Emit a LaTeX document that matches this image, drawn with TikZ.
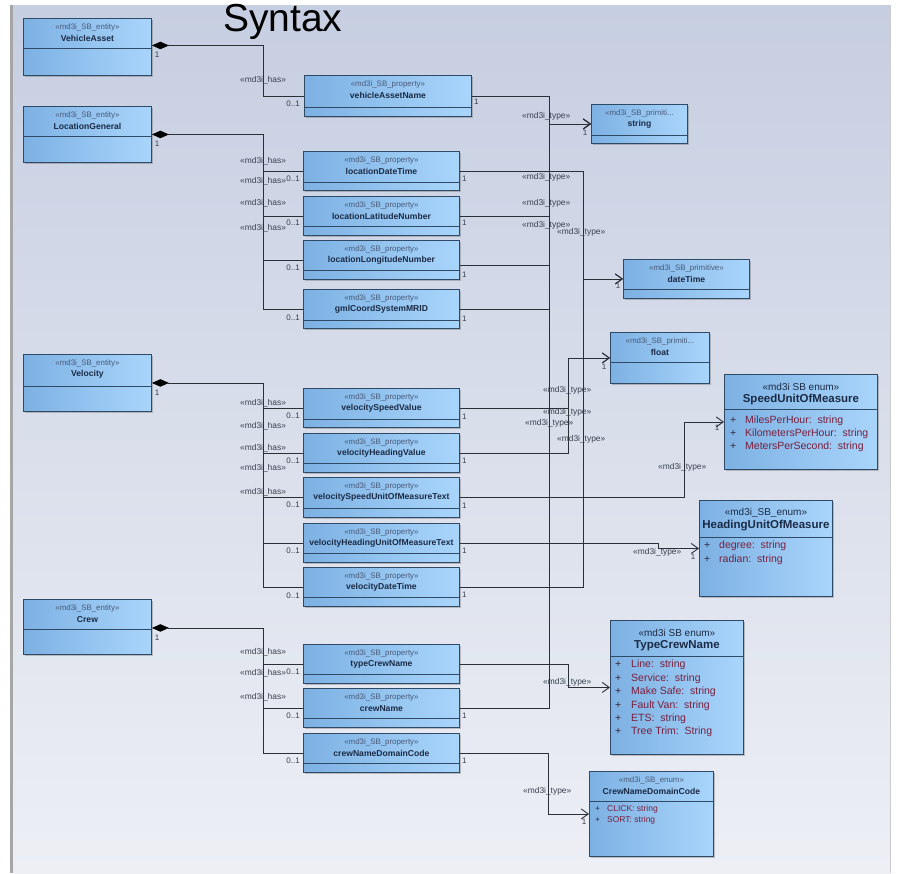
\documentclass[tikz,border=0pt]{standalone}
\usepackage{fontspec}
\setmainfont{Liberation Sans}
\usetikzlibrary{arrows.meta,shadows}

\definecolor{boxdark}{HTML}{7DB1E3}
\definecolor{boxlight}{HTML}{A9D5FB}
\definecolor{boxedge}{HTML}{2F4A66}
\definecolor{wire}{HTML}{2A3038}
\definecolor{stereo}{HTML}{4A5A78}
\definecolor{titlecol}{HTML}{1B2B45}
\definecolor{attr}{HTML}{7A1F3D}
\definecolor{plus}{HTML}{3A2A3A}
\definecolor{bgtop}{HTML}{C6CEE1}
\definecolor{bgbot}{HTML}{EDEFF5}
\definecolor{lbl}{HTML}{38404E}

% one UML class box: name, x, y, width, height, divider offset, text size (s/l), stereotype, title
\newcommand\umlclass[9]{%
  \node[umlbox, minimum width=#4pt, minimum height=#5pt] (#1) at (#2,#3) {};
  \draw[divider] ([yshift=-#6pt]#1.north west) -- ([yshift=-#6pt]#1.north east);
  \node[#7st] (#1-st) at (#1.north) {#8};
  \node[#7nm] (#1-nm) at (#1.north) {#9};
}
\newcommand\attrplus[1]{\makebox[#1][l]{\textcolor{plus}{+}}}

\begin{document}
\begin{tikzpicture}[x=1pt,y=-1pt,
  umlbox/.style={rectangle, draw=boxedge, line width=0.9pt, left color=boxdark,
    right color=boxlight, inner sep=0pt, anchor=north west,
    drop shadow={shadow xshift=1.8pt, shadow yshift=-1.8pt, opacity=0.3, fill=black!70}},
  divider/.style={draw=boxedge, line width=0.9pt},
  sst/.style={font=\fontsize{7.9}{8}\selectfont, text=stereo, inner sep=0pt, yshift=-9.5pt},
  snm/.style={font=\bfseries\fontsize{8.6}{9}\selectfont, text=titlecol, inner sep=0pt, yshift=-20.5pt},
  lst/.style={font=\fontsize{10}{11}\selectfont, text=titlecol, inner sep=0pt, yshift=-12.5pt},
  lnm/.style={font=\bfseries\fontsize{11.5}{12}\selectfont, text=titlecol, inner sep=0pt, yshift=-26pt},
  attrl/.style={font=\fontsize{10.5}{11}\selectfont, text=attr, inner sep=0pt, anchor=west},
  attrs/.style={font=\fontsize{8.5}{9}\selectfont, text=attr, inner sep=0pt, anchor=west},
  wire/.style={draw=wire, line width=0.9pt},
  comp/.style={wire, {Diamond[length=17pt,width=7.5pt,fill=black,color=black]}-},
  typ/.style={wire, -{Straight Barb[length=7pt,width=10pt,line width=0.9pt]}},
  conlbl/.style={font=\fontsize{8.4}{9}\selectfont, text=lbl, inner sep=0pt, anchor=west},
  mult/.style={font=\fontsize{8}{9}\selectfont, text=lbl, inner sep=0pt},
]

% canvas
\useasboundingbox (0,0) rectangle (897,873);
\fill[white] (0,0) rectangle (897,873);
\shade[top color=bgtop, bottom color=bgbot] (13,5) rectangle (890,873);
\fill[black!35] (10,5) rectangle (13,873);
\draw[black!20, line width=0.8pt] (890,5) -- (890,873);

\node[font=\fontsize{39}{39}\selectfont, inner sep=0pt, anchor=base west] (title) at (223,31) {Syntax};

% entities
\umlclass{va}{23}{18}{128}{57}{30}{s}{«md3i\_SB\_entity»}{VehicleAsset}
\umlclass{lg}{23}{106}{128}{56}{30}{s}{«md3i\_SB\_entity»}{LocationGeneral}
\umlclass{vel}{23}{354}{128}{57}{32}{s}{«md3i\_SB\_entity»}{Velocity}
\umlclass{crew}{23}{599}{128}{55}{30}{s}{«md3i\_SB\_entity»}{Crew}

% properties
\umlclass{van}{304}{75}{167}{41}{32}{s}{«md3i\_SB\_property»}{vehicleAssetName}
\umlclass{ldt}{303}{151}{156}{39}{31}{s}{«md3i\_SB\_property»}{locationDateTime}
\umlclass{llat}{303}{196}{156}{39}{30}{s}{«md3i\_SB\_property»}{locationLatitudeNumber}
\umlclass{llon}{303}{240}{156}{39}{30}{s}{«md3i\_SB\_property»}{locationLongitudeNumber}
\umlclass{gml}{303}{289}{156}{39}{31}{s}{«md3i\_SB\_property»}{gmlCoordSystemMRID}
\umlclass{vsv}{303}{388}{156}{39}{31}{s}{«md3i\_SB\_property»}{velocitySpeedValue}
\umlclass{vhv}{303}{433}{156}{39}{30}{s}{«md3i\_SB\_property»}{velocityHeadingValue}
\umlclass{vsu}{303}{477}{156}{40}{31}{s}{«md3i\_SB\_property»}{velocitySpeedUnitOfMeasureText}
\umlclass{vhu}{303}{523}{156}{39}{30}{s}{«md3i\_SB\_property»}{velocityHeadingUnitOfMeasureText}
\umlclass{vdt}{303}{567}{156}{39}{30}{s}{«md3i\_SB\_property»}{velocityDateTime}
\umlclass{tcn}{303}{644}{156}{39}{30}{s}{«md3i\_SB\_property»}{typeCrewName}
\umlclass{cn}{303}{688}{156}{39}{30}{s}{«md3i\_SB\_property»}{crewName}
\umlclass{cndc}{303}{733}{156}{39}{30}{s}{«md3i\_SB\_property»}{crewNameDomainCode}

% types
\umlclass{string}{591}{104}{96}{39}{31}{s}{«md3i\_SB\_primiti...}{string}
\umlclass{datetime}{623}{259}{126}{39}{30}{s}{«md3i\_SB\_primitive»}{dateTime}
\umlclass{float}{610}{332}{99}{51}{30}{s}{«md3i\_SB\_primiti...}{float}
\umlclass{spd}{724}{374}{153}{95}{35}{l}{«md3i SB enum»}{SpeedUnitOfMeasure}
\umlclass{hdg}{699}{500}{133}{96}{37}{l}{«md3i\_SB\_enum»}{HeadingUnitOfMeasure}
\umlclass{crewtype}{610}{620}{133}{134}{36}{l}{«md3i SB enum»}{TypeCrewName}
\umlclass{domain}{589}{771}{124}{85}{30}{s}{«md3i\_SB\_enum»}{CrewNameDomainCode}

% enumeration literals
\node[attrl] (spd-a1) at (730,421) {\attrplus{15pt}MilesPerHour:\ \ string};
\node[attrl] (spd-a2) at (730,434) {\attrplus{15pt}KilometersPerHour:\ \ string};
\node[attrl] (spd-a3) at (730,447) {\attrplus{15pt}MetersPerSecond:\ \ string};
\node[attrl] (hdg-a1) at (704,546) {\attrplus{15pt}degree:\ \ string};
\node[attrl] (hdg-a2) at (704,560) {\attrplus{15pt}radian:\ \ string};
\node[attrl] (ct-a1) at (615,665) {\attrplus{16pt}Line:\ \ string};
\node[attrl] (ct-a2) at (615,679) {\attrplus{16pt}Service:\ \ string};
\node[attrl] (ct-a3) at (615,692) {\attrplus{16pt}Make Safe:\ \ string};
\node[attrl] (ct-a4) at (615,706) {\attrplus{16pt}Fault Van:\ \ string};
\node[attrl] (ct-a5) at (615,719) {\attrplus{16pt}ETS:\ \ string};
\node[attrl] (ct-a6) at (615,732) {\attrplus{16pt}Tree Trim:\ \ String};
\node[attrs] (dom-a1) at (595,809) {\attrplus{12pt}CLICK:\ string};
\node[attrs] (dom-a2) at (595,820) {\attrplus{12pt}SORT:\ string};

% trunk positions
\coordinate (trunkx) at (263,0);
\coordinate (strx) at (549,0);
\coordinate (floatx) at (568,0);
\coordinate (datex) at (583,0);
\coordinate (spdx) at (684,0);
\coordinate (hdgx) at (658,0);
\coordinate (ctx) at (568,0);
\coordinate (domx) at (548,0);

% compositions (entity owns its properties)
\draw[comp] ([yshift=1.5pt]va.east) -| (trunkx |- van.west) -- (van.west);

\draw[comp] (lg.east) -| (trunkx |- gml.west) -- (gml.west);
\draw[wire] (trunkx |- ldt.west) -- (ldt.west);
\draw[wire] (trunkx |- llat.west) -- (llat.west);
\draw[wire] (trunkx |- llon.west) -- (llon.west);

\draw[comp] (vel.east) -| (trunkx |- vdt.west) -- (vdt.west);
\draw[wire] (trunkx |- vsv.west) -- (vsv.west);
\draw[wire] (trunkx |- vhv.west) -- (vhv.west);
\draw[wire] (trunkx |- vsu.west) -- (vsu.west);
\draw[wire] (trunkx |- vhu.west) -- (vhu.west);

\draw[comp] ([yshift=-1pt]crew.east) -| (trunkx |- cndc.west) -- (cndc.west);
\draw[wire] (trunkx |- tcn.west) -- (tcn.west);
\draw[wire] (trunkx |- cn.west) -- (cn.west);

% type associations
\draw[typ] (van.east) -| (strx |- string.west) -- (string.west);
\draw[typ] (gml.east) -| (strx |- string.west) -- (string.west);
\draw[typ] (cn.east) -| (strx |- string.west) -- (string.west);
\draw[wire] (llat.east) -| (strx |- gml.east);
\draw[wire] ([yshift=-5.5pt]llon.east) -| (strx |- gml.east);
\draw[typ] (ldt.east) -| (datex |- datetime.west) -- (datetime.west);
\draw[typ] (vdt.east) -| (datex |- datetime.west) -- (datetime.west);
\draw[typ] (vsv.east) -| (floatx |- float.west) -- (float.west);
\draw[typ] (vhv.east) -| (floatx |- float.west) -- (float.west);
\draw[typ] (vsu.east) -| (spdx |- spd.west) -- (spd.west);
\draw[typ] (vhu.east) -| (hdgx |- hdg.west) -- (hdg.west);
\draw[typ] (tcn.east) -| (ctx |- crewtype.west) -- (crewtype.west);
\draw[typ] (cndc.east) -| (domx |- domain.west) -- (domain.west);

% composition stereotypes
\foreach \yy [count=\i] in {80,161,181,203,228,403,426,448,468,492,652,673,697}
  \node[conlbl] (has\i) at (240,\yy) {«md3i\_has»};

% owner-side multiplicities
\foreach \yy [count=\i] in {55,144,393,638}
  \node[mult] (own\i) at (157,\yy) {1};

% property-side multiplicities
\foreach \yy [count=\i] in {104,179,223,268,318,416,461,505,551,596,672,716,761}
  \node[mult, anchor=east] (opt\i) at (300,\yy) {0..1};

% source multiplicities of the type associations
\node[mult, anchor=west] (src1) at (474,102) {1};
\foreach \yy [count=\i from 2] in {179,223,275,319,417,461,506,551,595,716,761}
  \node[mult, anchor=west] (src\i) at (462,\yy) {1};

% type association stereotypes
\foreach \xx/\yy [count=\i] in {522/116,522/177,522/203,522/225,557/232,543/390,543/412,525/423,557/439,658/467,633/552,543/682,523/791}
  \node[conlbl] (type\i) at (\xx,\yy) {«md3i\_type»};

% target multiplicities
\foreach \xx/\yy [count=\i] in {585/133,618/286,604/367,717/428,693/557,584/822}
  \node[mult] (tgt\i) at (\xx,\yy) {1};

\end{tikzpicture}
\end{document}
